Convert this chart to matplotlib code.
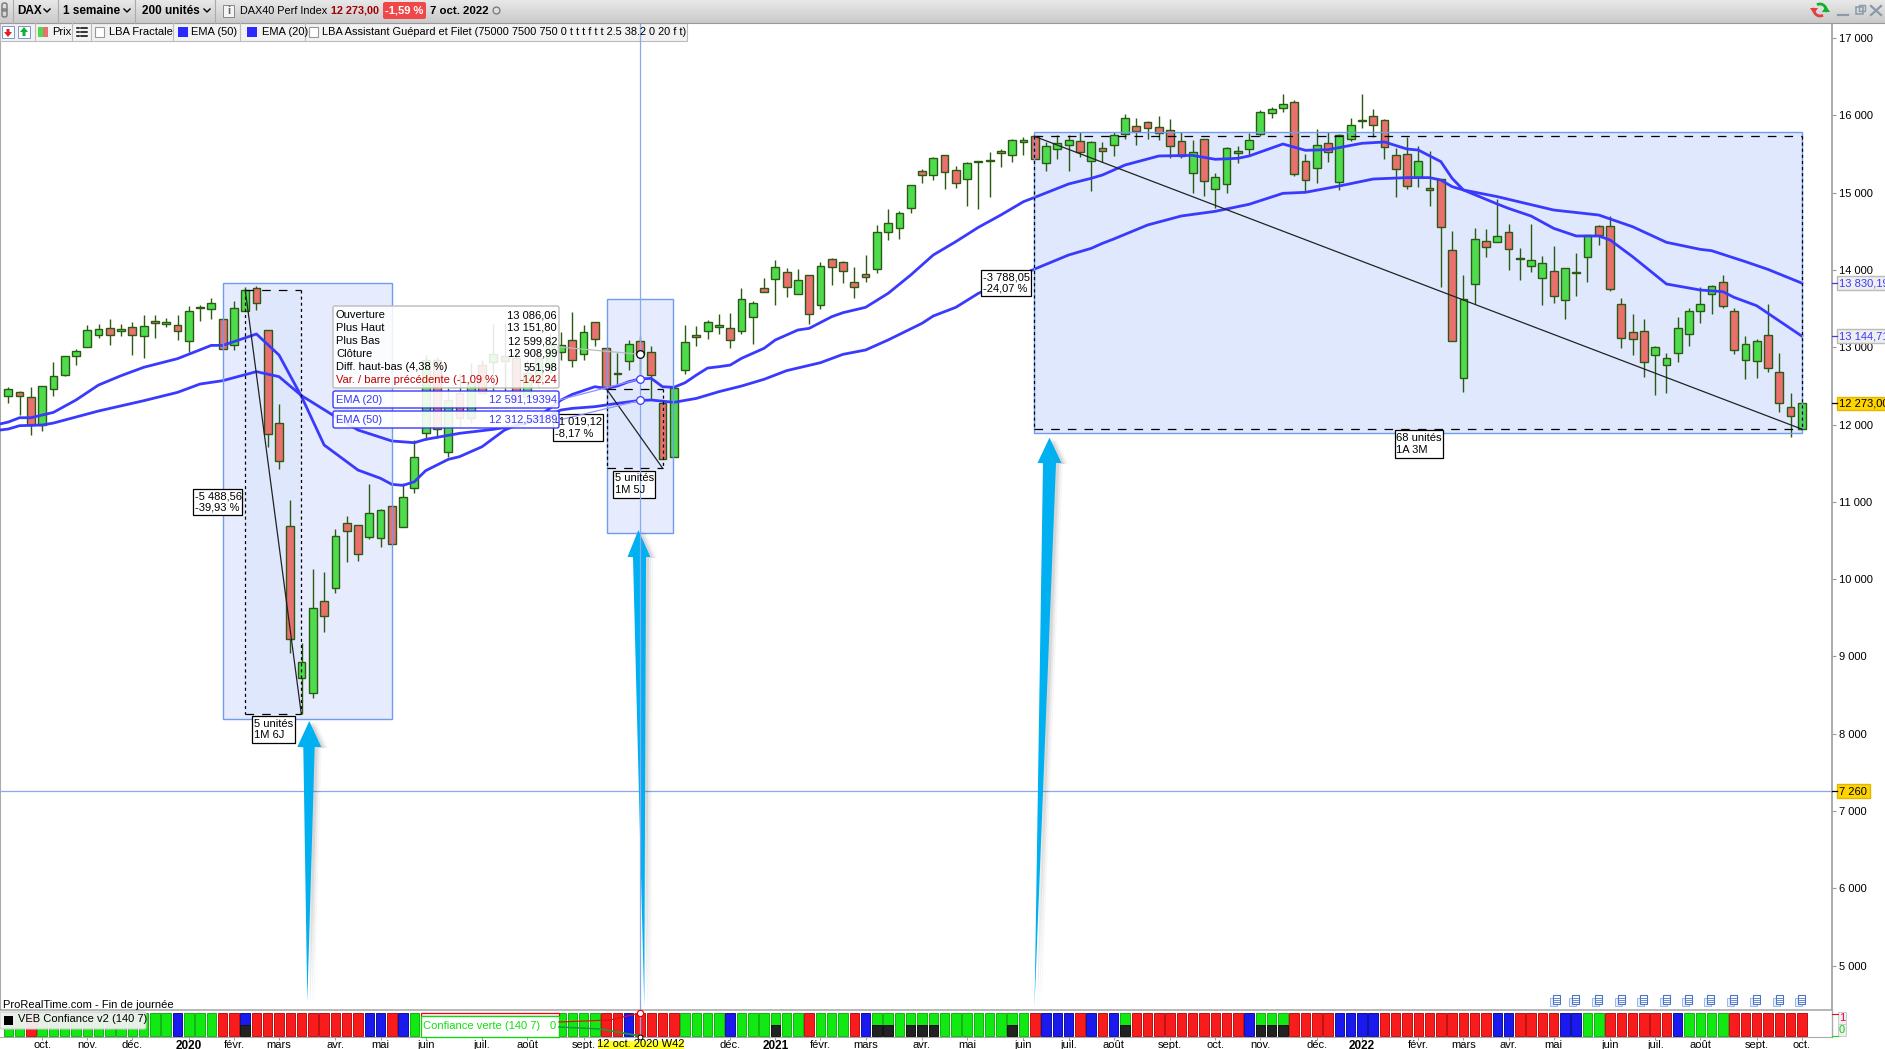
import numpy as np
import matplotlib
matplotlib.use('Agg')
import matplotlib.pyplot as plt
from matplotlib.patches import Rectangle, FancyBboxPatch, Polygon, Arc

plt.rcParams['font.family'] = ['Liberation Sans', 'DejaVu Sans']
plt.rcParams['font.size'] = 8
plt.rcParams['lines.scale_dashes'] = False

# Weekly DAX candles
open_ = [12374,12417,12352,11999,12456,12646,12883,13008,13154,13245,
         13215,13258,13142,13336,13297,13284,13077,13504,13491,13361,
         13025,13465,13762,13219,12016,10684,8717,8523,9714,9882,
         10723,10697,10541,10528,10942,10671,11175,11887,12835,11650,
         12404,12081,12771,12805,12887,12857,12361,12577,12749,12935,
         13090,12917,13323,12986,12659,12818,13086.06,12935,12275,11585,
         12702,13154,13206,13258,13245,13207,13388,13763,13879,13970,
         13685,13931,13543,14138,14099,13840,13944,14009,14487,14539,
         14798,15276,15225,15483,15289,15173,15402,15414,15535,15483,
         15652,15729,15380,15561,15613,15664,15406,15574,15613,15755,
         15859,15910,15846,15807,15665,15251,15690,15044,15108,15509,
         15561,15755,16027,16091,16169,15406,15315,15639,15134,15690,
         15932,15988,15936,15483,15496,15208,15057,15173,14254,12598,
         13814,14371,14358,14487,14146,14047,13892,13983,13607,13965,
         14164,14565,14565,13556,13193,13206,12896,12767,12922,13168,
         13465,13685,13840,13465,12831,12818,13155,12676,12223,11939]
high = [12490,12434,12490,12495,12810,12891,12978,13288,13297,13361,
        13301,13327,13418,13418,13379,13418,13534,13547,13637,13361,
        13594,13775,13793,13219,12262,11024,9170,10127,10093,10645,
        10813,10697,11227,10904,10942,11240,11796,12900,12879,12469,
        12663,12792,12835,13301,13310,13008,12835,12986,13180,13202,
        13456,13288,13323,12986,12922,13094,13151.80,13017,12275,12469,
        13288,13275,13353,13430,13448,13767,13595,13892,14129,14022,
        14013,13931,14099,14155,14112,14039,14194,14578,14789,14759,
        15095,15302,15458,15483,15341,15393,15406,15522,15561,15690,
        15716,15729,15660,15742,15742,15781,15673,15656,15781,16014,
        15962,15923,15988,15949,15781,15682,15690,15251,15587,15600,
        15768,16070,16104,16277,16199,15501,15820,15781,15755,15962,
        16277,16083,15949,15574,15716,15600,15535,15173,14504,13935,
        14539,14526,14914,14595,14280,14595,14177,14310,14021,14220,
        14448,14578,14698,13633,13431,13366,13017,12922,13392,13504,
        13776,13801,13931,13504,13146,13103,13560,12922,12409,12273]
low = [12284,12124,11865,11917,12374,12633,12771,13008,13124,13029,
       13146,12900,12861,13120,13262,13094,12939,13340,13366,12973,
       12965,13465,13482,11714,11425,9050,8255,8467,9321,9826,
       10227,10240,10516,10412,10451,10671,11111,11800,11822,11585,
       11973,12016,12404,12404,12404,12275,12318,12490,12663,12835,
       12741,12835,13017,12469,12512,12706,12599.82,12318,11550,11585,
       12659,13021,13107,13172,12995,13177,13047,13711,13552,13655,
       13685,13297,13500,13810,13836,13642,13849,13966,14388,14405,
       14742,15126,15169,15052,15065,14832,14793,14949,15337,15401,
       15492,15432,15285,15440,15285,15458,15026,15393,15479,15690,
       15613,15690,15678,15445,15445,15001,14962,14807,15001,15389,
       15483,15729,15971,16048,15216,15013,15130,15402,15039,15669,
       15841,15716,15440,14940,15044,15070,14832,13785,13077,12426,
       13556,14172,14358,14000,13875,13978,13551,13577,13370,13668,
       13849,14319,13732,12995,12896,12611,12378,12413,12814,13021,
       13319,13435,13513,12918,12586,12607,12685,12167,11844,11939]
close = [12456,12365,11999,12495,12624,12883,12948,13219,13232,13154,
         13232,13154,13271,13310,13323,13206,13465,13517,13568,12973,
         13504,13737,13568,11874,11525,9222,8924,9623,9520,10554,
         10619,10322,10852,10891,10451,11059,11576,12835,11939,12318,
         12081,12555,12404,12909,12827,12318,12663,12857,13029,13029,
         12835,13193,13103,12469,12672,13038,12908.99,12637,11550,12469,
         13064,13129,13323,13284,13099,13621,13569,13711,14035,13776,
         13866,13427,14047,14035,13983,13776,13905,14487,14604,14733,
         15095,15225,15445,15263,15121,15380,15406,15419,15509,15677,
         15677,15432,15600,15639,15677,15522,15652,15535,15742,15962,
         15794,15833,15768,15600,15471,15522,15147,15199,15574,15535,
         15678,16040,16079,16143,15238,15160,15613,15522,15742,15872,
         15936,15872,15587,15302,15082,15406,15031,14552,13077,13620,
         14397,14293,14435,14267,14151,14125,14086,13659,14021,13970,
         14448,14448,13750,13116,13103,12805,13000,12857,13245,13465,
         13556,13789,13530,12961,13038,13077,12728,12275,12107,12273]

# EMA lines, read at the bars where they bend (the first point lies just off the left edge)
ema20_x = [-1,0,1,2,4,6,8,10,12,15,18,19,20,22,24,26,28,31,33,34,35,36,37,38,39,40,42,44,47,49,50,52,53,54,55,56,57,58,59,60,61,62,63,64,
           65,67,68,70,71,73,74,76,78,80,82,84,86,88,90,91,94,96,97,99,102,105,107,109,110,113,115,117,120,122,124,125,127,128,129,132,
           133,135,137,139,141,142,144,147,150,152,153,155,159]
ema20_y = [12000,12033,12089,12089,12158,12318,12512,12633,12741,12853,13025,13025,13073,13172,12900,12361,11736,11412,11305,11227,11214,11261,11404,11477,11550,11585,11714,11930,12102,12318,12391,12490,12469,12499,12555,12591.19,12598,12490,12482,12542,12641,12732,12749,12770,
           12857,12987,13095,13224,13245,13396,13448,13517,13698,13935,14194,14367,14552,14712,14884,14940,15113,15186,15229,15358,15475,15483,15432,15445,15475,15630,15548,15557,15639,15656,15565,15552,15402,15186,15035,14854,
           14797,14698,14539,14440,14440,14388,14172,13819,13741,13720,13646,13538,13144.71]
ema50_x = [-1,0,1,3,4,8,12,15,17,19,22,24,26,29,31,34,36,37,40,43,45,47,49,50,52,54,56,57,59,61,63,65,
           67,69,72,74,76,78,81,82,84,86,91,94,96,97,98,101,104,107,110,113,115,118,121,124,126,127,128,129,132,
           137,141,144,147,150,151,154,156,159]
ema50_y = [11925,11943,11986,11995,12020,12176,12309,12417,12525,12568,12685,12620,12374,12102,11930,11788,11766,11809,11887,11939,11986,12059,12189,12210,12232,12275,12312.53,12318,12288,12339,12426,12499,
           12586,12698,12801,12909,12965,13095,13310,13405,13517,13698,14013,14194,14280,14345,14401,14582,14699,14759,14850,14992,15005,15087,15177,15195,15195,15164,15078,15035,14949,
           14776,14711,14560,14358,14267,14250,14108,14008,13830.19]

# VEB confiance colour per bar: G green, R red, B blue, K green/black, L blue/black
confiance = ("GGR" "GGGGGGGGGGGG" "B" "GGG" "RR" "L" "RRRRRRRRRR" "BB" "R" "B"
             "GGGGGGGGGGGGGGGGG" "RR" "B" "RRRR" "GGGG" "B" "GGG" "K" "GG" "R"
             "GGG" "R" "B" "KK" "G" "KKK" "GGGGGG" "K" "G" "R" "BBB" "R" "B" "R"
             "B" "K" "RRRRRRRRRR" "B" "KKK" "RRRR" "BBBB" "RRRRRRRRRR" "BB" "RRRR"
             "BB" "GG" "RRRRRR" "B" "GGGG" "RRRRRRR")

price_ticks = [5000,6000,7000,8000,9000,10000,11000,12000,13000,14000,15000,16000,17000]
price_labels = ['5 000','6 000','7 000','8 000','9 000','10 000','11 000','12 000','13 000','14 000','15 000','16 000','17 000']
month_pos = [3,7,11,16,20,24,29,33,37,42,46,51,64,68,72,76,81,85,90,94,98,103,107,111,116,120,125,129,133,137,142,146,150,155,159]
month_names = ['oct.','nov.','déc.','2020','févr.','mars','avr.','mai','juin','juil.','août','sept.',
               'déc.','2021','févr.','mars','avr.','mai','juin','juil.','août','sept.','oct.','nov.',
               'déc.','2022','févr.','mars','avr.','mai','juin','juil.','août','sept.','oct.']
tooltip_names = ['Ouverture','Plus Haut','Plus Bas','Clôture','Diff. haut-bas (4,38 %)','Var. / barre précédente (-1,09 %)']
tooltip_values = ['13 086,06','13 151,80','12 599,82','12 908,99','551,98','-142,24']

W, H = 1885, 1049
PANEL_R = 1832
BAR0, BAR_STEP = 8.3, 11.28
BLUE = '#3a3aff'
SEL = '#6f9bf0'
WICK = '#2b5a12'


def y_px(v):
    return 115.4 + (16000 - v) * 0.0773


def x_px(i):
    return BAR0 + BAR_STEP * i


def price_at(y):
    return 16000 - (y - 115.4) / 0.0773


def bar_at(x):
    return (x - BAR0) / BAR_STEP


fig = plt.figure(figsize=(W / 100, H / 100), dpi=100, facecolor='white')

# layers: selection fills below, candles in the middle, drawings on top
bg = fig.add_axes([0, 0, 1, 1], zorder=0)
ax = fig.add_axes([0, (H - 1010) / H, PANEL_R / W, (1010 - 24) / H], zorder=1)
ax2 = fig.add_axes([0, (H - 1037) / H, PANEL_R / W, 27 / H], zorder=1)
ov = fig.add_axes([0, 0, 1, 1], zorder=2)
for a in (bg, ov):
    a.set_xlim(0, W)
    a.set_ylim(H, 0)
    a.axis('off')
ov.patch.set_alpha(0)

# selection fills
for x0, x1, y0, y1 in [(222.7, 391.7, 282.7, 719), (606.7, 673.3, 299.3, 532.7)]:
    bg.add_patch(Rectangle((x0, y0), x1 - x0, y1 - y0, fc='#e6ecfd', ec='none'))
bg.add_patch(Rectangle((245.3, 290.3), 56, 423.7, fc='#dfe7fc', ec='none'))
bg.add_patch(Rectangle((606.7, 389.3), 56, 79, fc='#dfe7fc', ec='none'))
bg.add_patch(Rectangle((1034.3, 131.7), 768, 301.6, fc='#dfe8fd', ec='none'))

# candles
ax.patch.set_alpha(0)
idx = np.arange(len(open_))
o, h, l, c = map(np.array, (open_, high, low, close))
up = c >= o
ax.vlines(idx, l, h, color=WICK, lw=1.0, zorder=2)
ax.bar(idx, np.abs(c - o), bottom=np.minimum(o, c), width=0.69,
       color=np.where(up, '#4edc4e', '#ea7070'), edgecolor=WICK, linewidth=1.0, zorder=3)
ax.plot(ema20_x, ema20_y, color=BLUE, lw=2.0, zorder=4)
ax.plot(ema50_x, ema50_y, color=BLUE, lw=2.0, zorder=4)
ax.axhline(7260, color='#8aa8f0', lw=0.9, zorder=1)

ax.set_xlim(bar_at(0), bar_at(PANEL_R))
ax.set_ylim(price_at(1010), price_at(24))
ax.set_xticks([])
ax.yaxis.tick_right()
ax.set_yticks(price_ticks)
ax.set_yticklabels(price_labels)
ax.tick_params(axis='y', length=3, width=0.8, color='#999999', pad=2, labelsize=8)
for s in ('top', 'bottom'):
    ax.spines[s].set_visible(False)
ax.spines['left'].set_color('#aaaaaa')
ax.spines['right'].set_color('#aaaaaa')
ax.spines['right'].set_linewidth(1.4)

# VEB panel
ax2.patch.set_alpha(0)
fill = {'G': '#12e812', 'R': '#f81c1c', 'B': '#1a1aee'}
edge = {'G': '#0fb40f', 'R': '#c01010', 'B': '#1010a0'}
for i, k in enumerate(confiance):
    if k in 'KL':
        top = 'G' if k == 'K' else 'B'
        ax2.bar(i, 0.5, bottom=0.5, width=0.84, color=fill[top], edgecolor=edge[top], linewidth=0.7)
        ax2.bar(i, 0.5, bottom=0, width=0.84, color='#222222', edgecolor='#111111', linewidth=0.7)
    else:
        ax2.bar(i, 1, width=0.84, color=fill[k], edgecolor=edge[k], linewidth=0.7)
ax2.set_xlim(ax.get_xlim())
ax2.set_ylim(-0.03, 1.15)
ax2.set_yticks([])
ax2.set_xticks(month_pos)
ax2.set_xticklabels(month_names)
ax2.tick_params(axis='x', length=2, width=0.7, color='#999999', pad=0.5, labelsize=8)
for lab in ax2.get_xticklabels():
    if lab.get_text().isdigit():
        lab.set_fontweight('bold')
        lab.set_fontsize(8.5)
for s in ('left', 'right'):
    ax2.spines[s].set_visible(False)
ax2.spines['top'].set_color('#aaaaaa')
ax2.spines['top'].set_linewidth(1.2)
ax2.spines['bottom'].set_color('#aaaaaa')
ov.plot([PANEL_R, PANEL_R], [1010, 1037], color='#aaaaaa', lw=1.0)

# crosshair, selection outlines
ov.plot([640.3, 640.3], [24, 1036], color='#8aa8f0', lw=0.9)
for x0, x1, y0, y1 in [(222.7, 391.7, 282.7, 719), (606.7, 673.3, 299.3, 532.7), (1034.3, 1802.3, 131.7, 433.3)]:
    ov.add_patch(Rectangle((x0, y0), x1 - x0, y1 - y0, fc='none', ec=SEL, lw=1.0))

# dashed measure boxes and their diagonals
short = (0, (2.2, 2.2))
long_ = (0, (6.2, 5.8))
for x0, x1, y0, y1 in [(245.3, 301.3, 290.3, 714), (606.7, 662.7, 389.3, 468.3), (1034.3, 1802.3, 136.3, 429.3)]:
    ov.plot([x0, x0], [y0, y1], color='k', lw=0.9, ls=short)
    ov.plot([x1, x1], [y0, y1], color='k', lw=0.9, ls=short)
    ov.plot([x0, x1], [y0, y0], color='k', lw=0.9, ls=long_)
    ov.plot([x0, x1], [y1, y1], color='k', lw=0.9, ls=long_)
    ov.plot([x0, x1], [y0, y1], color='#222222', lw=0.9)


def tag(x0, y0, x1, y1, text):
    ov.add_patch(Rectangle((x0, y0), x1 - x0, y1 - y0, fc='white', ec='k', lw=0.9))
    ov.text(x0 + 2, (y0 + y1) / 2, text, ha='left', va='center', fontsize=8, color='k', linespacing=1.2)


tag(192.7, 488.7, 242.3, 515.3, '-5 488,56\n-39,93 %')
tag(252.3, 716, 294.7, 743.3, '5 unités\n1M 6J')
tag(553.3, 414.3, 603.3, 441.3, '-1 019,12\n-8,17 %')
tag(613.3, 470.7, 655.3, 497.7, '5 unités\n1M 5J')
tag(981.3, 269.7, 1031.3, 296.3, '-3 788,05\n-24,07 %')
tag(1394.5, 430.4, 1442.6, 458, '68 unités\n1A 3M')

# tooltip connectors and markers
ema20_here = ema20_y[ema20_x.index(56)]
ema50_here = ema50_y[ema50_x.index(56)]
ov.plot([559, 640.3], [347, y_px(close[56])], color='#bbbbbb', lw=0.9)
ov.plot([559, 640.3], [400, y_px(ema20_here)], color='#8f8fff', lw=0.9)
ov.plot([559, 640.3], [420, y_px(ema50_here)], color='#8f8fff', lw=0.9)
ov.plot(640.3, y_px(close[56]), 'o', ms=5.5, mfc='white', mec='k', mew=0.9)
ov.plot(640.3, y_px(ema20_here), 'o', ms=5.5, mfc='white', mec=BLUE, mew=0.9)
ov.plot(640.3, y_px(ema50_here), 'o', ms=5.5, mfc='white', mec=BLUE, mew=0.9)

# tooltip
ov.add_patch(FancyBboxPatch((333, 306), 226, 82, boxstyle='round,pad=0,rounding_size=2',
                            fc=(1, 1, 1, 0.88), ec='#bbbbbb', lw=1.0))
for n, (name, val) in enumerate(zip(tooltip_names, tooltip_values)):
    col = '#c00000' if n == 5 else 'k'
    ov.text(336, 315 + 13 * n, name, ha='left', va='center', fontsize=8, color=col)
    ov.text(557, 315 + 13 * n, val, ha='right', va='center', fontsize=8, color=col)
for y0, name, val in [(391, 'EMA (20)', '12 591,19394'), (411, 'EMA (50)', '12 312,53189')]:
    ov.add_patch(FancyBboxPatch((333, y0), 226, 17, boxstyle='round,pad=0,rounding_size=2',
                                fc=(1, 1, 1, 0.9), ec=BLUE, lw=1.0))
    ov.text(336, y0 + 9, name, ha='left', va='center', fontsize=8, color=BLUE)
    ov.text(557, y0 + 9, val, ha='right', va='center', fontsize=8, color=BLUE)

# blue hand-drawn arrows with a soft shadow
arrows = [
    [(309.3, 721), (321.3, 747), (314.7, 747), (307.3, 1002), (303.3, 747), (297.3, 747)],
    [(638.4, 530), (650.4, 557), (646, 557), (644.3, 1007), (633, 557), (627.5, 557)],
    [(1049.5, 437.6), (1061.5, 463), (1056, 463), (1034.5, 1007), (1043, 463), (1037.5, 463)],
]
for pts in arrows:
    for off, al in [(7, 0.03), (5, 0.05), (3, 0.08)]:
        ov.add_patch(Polygon([(x + off, y + 1) for x, y in pts], fc='k', ec='none', alpha=al))
    ov.add_patch(Polygon(pts, fc='#00b0f0', ec='none'))

# price tags on the axis
for v, txt, fc, ec, col in [(13830.19, '13 830,19', '#eeeeee', '#bbbbbb', BLUE),
                            (13144.71, '13 144,71', '#eeeeee', '#bbbbbb', BLUE),
                            (12273, '12 273,00', '#ffd400', '#e0b800', 'k'),
                            (7260, '7 260', '#ffd400', '#e0b800', 'k')]:
    y = y_px(v)
    x1 = 1870 if v == 7260 else W + 3
    ov.plot([PANEL_R, 1837], [y, y], color=col, lw=0.9)
    ov.add_patch(Rectangle((1837, y - 6.7), x1 - 1837, 13.4, fc=fc, ec=ec, lw=1.0))
    ov.text(1839, y + 0.5, txt, ha='left', va='center', fontsize=8, color=col)

# doc icons bottom right
for x in [1555, 1574, 1597, 1620, 1642, 1665, 1687, 1709, 1732, 1755, 1778, 1800]:
    ov.add_patch(Rectangle((x - 5, 998), 7, 8, fc='#e8effc', ec='#9db8e8', lw=0.7))
    ov.add_patch(Rectangle((x - 2, 995), 7, 9, fc='white', ec='#4a74c8', lw=0.8))
    ov.plot([x - 1, x + 4], [998, 998], color='#4a74c8', lw=0.6)
    ov.plot([x - 1, x + 4], [1000, 1000], color='#4a74c8', lw=0.6)
    ov.plot([x - 1, x + 4], [1002, 1002], color='#4a74c8', lw=0.6)

# bottom panel labels
ov.text(3, 1005, 'ProRealTime.com - Fin de journée', ha='left', va='center', fontsize=8, color='k')
ov.add_patch(FancyBboxPatch((0, 1012), 146, 17, boxstyle='round,pad=0,rounding_size=2',
                            fc=(0.95, 0.95, 0.95, 0.95), ec='#cccccc', lw=0.8))
ov.add_patch(Rectangle((4, 1016), 9, 9, fc='k', ec='none'))
ov.text(18, 1019.5, 'VEB Confiance v2 (140 7)', ha='left', va='center', fontsize=8, color='k')
ov.plot([559, 610, 640.3], [1022, 1020, 1013], color='#e01010', lw=0.9)
ov.plot([559, 600, 640.3], [1027, 1029, 1036], color='#10a040', lw=1.2)
ov.add_patch(Rectangle((420.7, 1013), 138, 3, fc='white', ec='#f00000', lw=0.9))
ov.add_patch(Rectangle((420.7, 1016), 138, 21, fc='white', ec='#00e000', lw=0.9))
ov.text(423, 1026, 'Confiance verte (140 7)', ha='left', va='center', fontsize=8, color='#10e010')
ov.text(556, 1026, '0', ha='right', va='center', fontsize=8, color='#10e010')
ov.plot(640.3, 1013, 'o', ms=4.5, mfc='white', mec='#f00000', mew=0.9)
ov.plot(640.3, 1037, 'o', ms=3.5, mfc='white', mec='k', mew=0.7)
ov.add_patch(Rectangle((597.5, 1040.5), 86.5, 9, fc='#ffff20', ec='none'))
ov.text(640.5, 1044, '12 oct. 2020 W42', ha='center', va='center', fontsize=8, color='k')
ov.plot([PANEL_R, 1838], [1014, 1014], color='#e01010', lw=0.8)
ov.plot([PANEL_R, 1838], [1036, 1036], color='#10e010', lw=0.8)
ov.add_patch(Rectangle((1838, 1012), 8, 12, fc='#eeeeee', ec='#cccccc', lw=0.7))
ov.add_patch(Rectangle((1838, 1024), 8, 12, fc='#eeeeee', ec='#cccccc', lw=0.7))
ov.text(1842, 1018, '1', ha='center', va='center', fontsize=8, color='#f00060')
ov.text(1842, 1030, '0', ha='center', va='center', fontsize=8, color='#10d010')

# top toolbar
grad = np.linspace(0.91, 0.79, 24).reshape(-1, 1)
ov.imshow(grad, extent=(0, W, 23, 0), aspect='auto', cmap='gray', vmin=0, vmax=1, zorder=0)
ov.set_xlim(0, W)
ov.set_ylim(H, 0)
ov.plot([0, W], [23, 23], color='#999999', lw=0.8)
for x in [13, 58, 135, 215]:
    ov.plot([x, x], [0, 23], color='#aaaaaa', lw=0.8)
ov.add_patch(FancyBboxPatch((2, 3), 5, 8, boxstyle='round,pad=0,rounding_size=2', fc='none', ec='#777777', lw=1.0))
ov.add_patch(FancyBboxPatch((2, 9), 5, 8, boxstyle='round,pad=0,rounding_size=2', fc='none', ec='#777777', lw=1.0))


def chevron(x):
    ov.plot([x - 3, x, x + 3], [9, 12, 9], color='k', lw=1.0)


ov.text(17, 10.5, 'DAX', ha='left', va='center', fontsize=8.5, fontweight='bold')
chevron(47)
ov.text(63, 10.5, '1 semaine', ha='left', va='center', fontsize=8.5, fontweight='bold')
chevron(127)
ov.text(142, 10.5, '200 unités', ha='left', va='center', fontsize=8.5, fontweight='bold')
chevron(207)
ov.add_patch(Rectangle((223, 5), 11, 12, fc='#f4f4f4', ec='#888888', lw=0.7))
ov.text(228.5, 11, 'i', ha='center', va='center', fontsize=8, color='#666666', fontweight='bold')
ov.text(240, 10.5, 'DAX40 Perf Index', ha='left', va='center', fontsize=7.8, color='k')
ov.text(331, 10.5, '12 273,00', ha='left', va='center', fontsize=7.8, color='#a00000', fontweight='bold')
ov.add_patch(FancyBboxPatch((383, 2), 43, 17, boxstyle='round,pad=0,rounding_size=2', fc='#f04848', ec='none'))
ov.text(404.5, 10.5, '-1,59 %', ha='center', va='center', fontsize=8, color='white', fontweight='bold')
ov.text(430, 10.5, '7 oct. 2022', ha='left', va='center', fontsize=8.2, color='k', fontweight='bold')
ov.plot(496, 10, 'o', ms=5, mfc='#dddddd', mec='#777777', mew=0.9)
ov.add_patch(Arc((1820, 10), 12, 12, theta1=60, theta2=200, color='#e04040', lw=2))
ov.add_patch(Polygon([(1810, 8), (1818, 8), (1814, 14)], fc='#e04040', ec='none'))
ov.add_patch(Arc((1820, 10), 12, 12, theta1=240, theta2=380, color='#10b030', lw=2))
ov.add_patch(Polygon([(1822, 12), (1830, 12), (1826, 6)], fc='#10b030', ec='none'))
ov.plot([1838, 1848], [15, 15], color='#8a9aa8', lw=1.6)
ov.add_patch(Rectangle((1856, 7), 7, 7, fc='none', ec='#8a9aa8', lw=1.1))
ov.add_patch(Rectangle((1859, 5), 6, 6, fc='none', ec='#8a9aa8', lw=1.0))
ov.plot([1871, 1881], [6, 15], color='#8a9aa8', lw=1.6)
ov.plot([1871, 1881], [15, 6], color='#8a9aa8', lw=1.6)

# second row legend
ov.add_patch(Rectangle((0, 23), 687, 18, fc='#f2f2f2', ec='#bbbbbb', lw=0.8))
for x in [35, 72, 91, 173, 240, 305]:
    ov.plot([x, x], [23, 41], color='#bbbbbb', lw=0.8)
ov.add_patch(Rectangle((2, 26), 12, 12, fc='white', ec='#7799cc', lw=0.7))
ov.add_patch(Polygon([(6.5, 29), (9.5, 29), (9.5, 32), (12, 32), (8, 37), (4, 32), (6.5, 32)], fc='#e02020', ec='none'))
ov.add_patch(Rectangle((18, 26), 12, 12, fc='white', ec='#7799cc', lw=0.7))
ov.add_patch(Polygon([(22.5, 36), (25.5, 36), (25.5, 32), (28, 32), (24, 27), (20, 32), (22.5, 32)], fc='#10b030', ec='none'))
ov.add_patch(Rectangle((38, 27), 5, 10, fc='#4edc4e', ec='none'))
ov.add_patch(Rectangle((43, 27), 5, 10, fc='#ea7070', ec='none'))
ov.text(52, 32, 'Prix', ha='left', va='center', fontsize=8)
for y in [28, 32, 36]:
    ov.plot([77, 79], [y, y], color='k', lw=1.1)
    ov.plot([81, 87], [y, y], color='k', lw=1.1)
ov.add_patch(Rectangle((95, 27), 9, 10, fc='white', ec='#999999', lw=0.8))
ov.text(109, 32, 'LBA Fractale', ha='left', va='center', fontsize=8)
ov.add_patch(Rectangle((178, 27), 10, 10, fc='#2a2aff', ec='none'))
ov.text(191, 32, 'EMA (50)', ha='left', va='center', fontsize=8)
ov.add_patch(Rectangle((247, 27), 10, 10, fc='#2a2aff', ec='none'))
ov.text(262, 32, 'EMA (20)', ha='left', va='center', fontsize=8)
ov.add_patch(Rectangle((309, 27), 9, 10, fc='white', ec='#999999', lw=0.8))
ov.text(322, 32, 'LBA Assistant Guépard et Filet (75000 7500 750 0 t t t f t t 2.5 38.2 0 20 f t)',
        ha='left', va='center', fontsize=7.9)

fig.savefig('out.png', dpi=100)
